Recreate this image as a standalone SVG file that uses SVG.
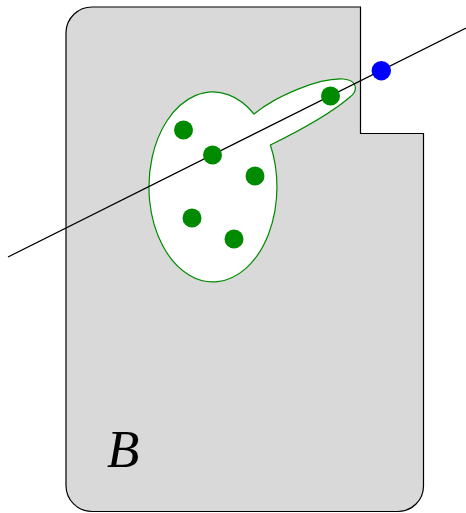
<svg xmlns="http://www.w3.org/2000/svg" width="466" height="513" viewBox="0 0 466 513">
<style>
.region{fill:#d9d9d9;stroke:#000;stroke-width:1.2}
.blob{fill:#fff;stroke:#008a00;stroke-width:1.2}
.gdot{fill:#008a00}
.bdot{fill:#0000ff}
.ln{stroke:#000;stroke-width:1.2;fill:none}
.lbl{font-family:"Liberation Serif","Times New Roman",serif;font-style:italic;font-size:53px;fill:#000}
</style>
<g id="regionB">
<path class="region" d="M66,32 A26,26 0 0 1 92,7 L360.5,7 L360.5,133.5 L423.5,133.5 L423.5,486 A25.5,25.5 0 0 1 398,511.5 L92,511.5 A26,26 0 0 1 66,485.5 Z"/>
<text class="lbl" x="107" y="467">B</text>
</g>
<g id="blob">
<path class="blob" d="M254,114 C276,96 318,78 343,79 C358,80 358,91 350,97 C335,110 305,128 270.4,145 A64,95 0 1 1 254,114 Z"/>
</g>
<g id="connectors">
<line class="ln" x1="8" y1="257" x2="466" y2="28"/>
</g>
<g id="dots">
<circle class="gdot" cx="183.5" cy="130" r="9.5"/>
<circle class="gdot" cx="212.5" cy="155" r="9.5"/>
<circle class="gdot" cx="255" cy="176" r="9.5"/>
<circle class="gdot" cx="192" cy="218" r="9.5"/>
<circle class="gdot" cx="234" cy="239" r="9.5"/>
<circle class="gdot" cx="330.5" cy="96" r="9.5"/>
<circle class="bdot" cx="381.3" cy="70.7" r="9.7"/>
</g>
</svg>
